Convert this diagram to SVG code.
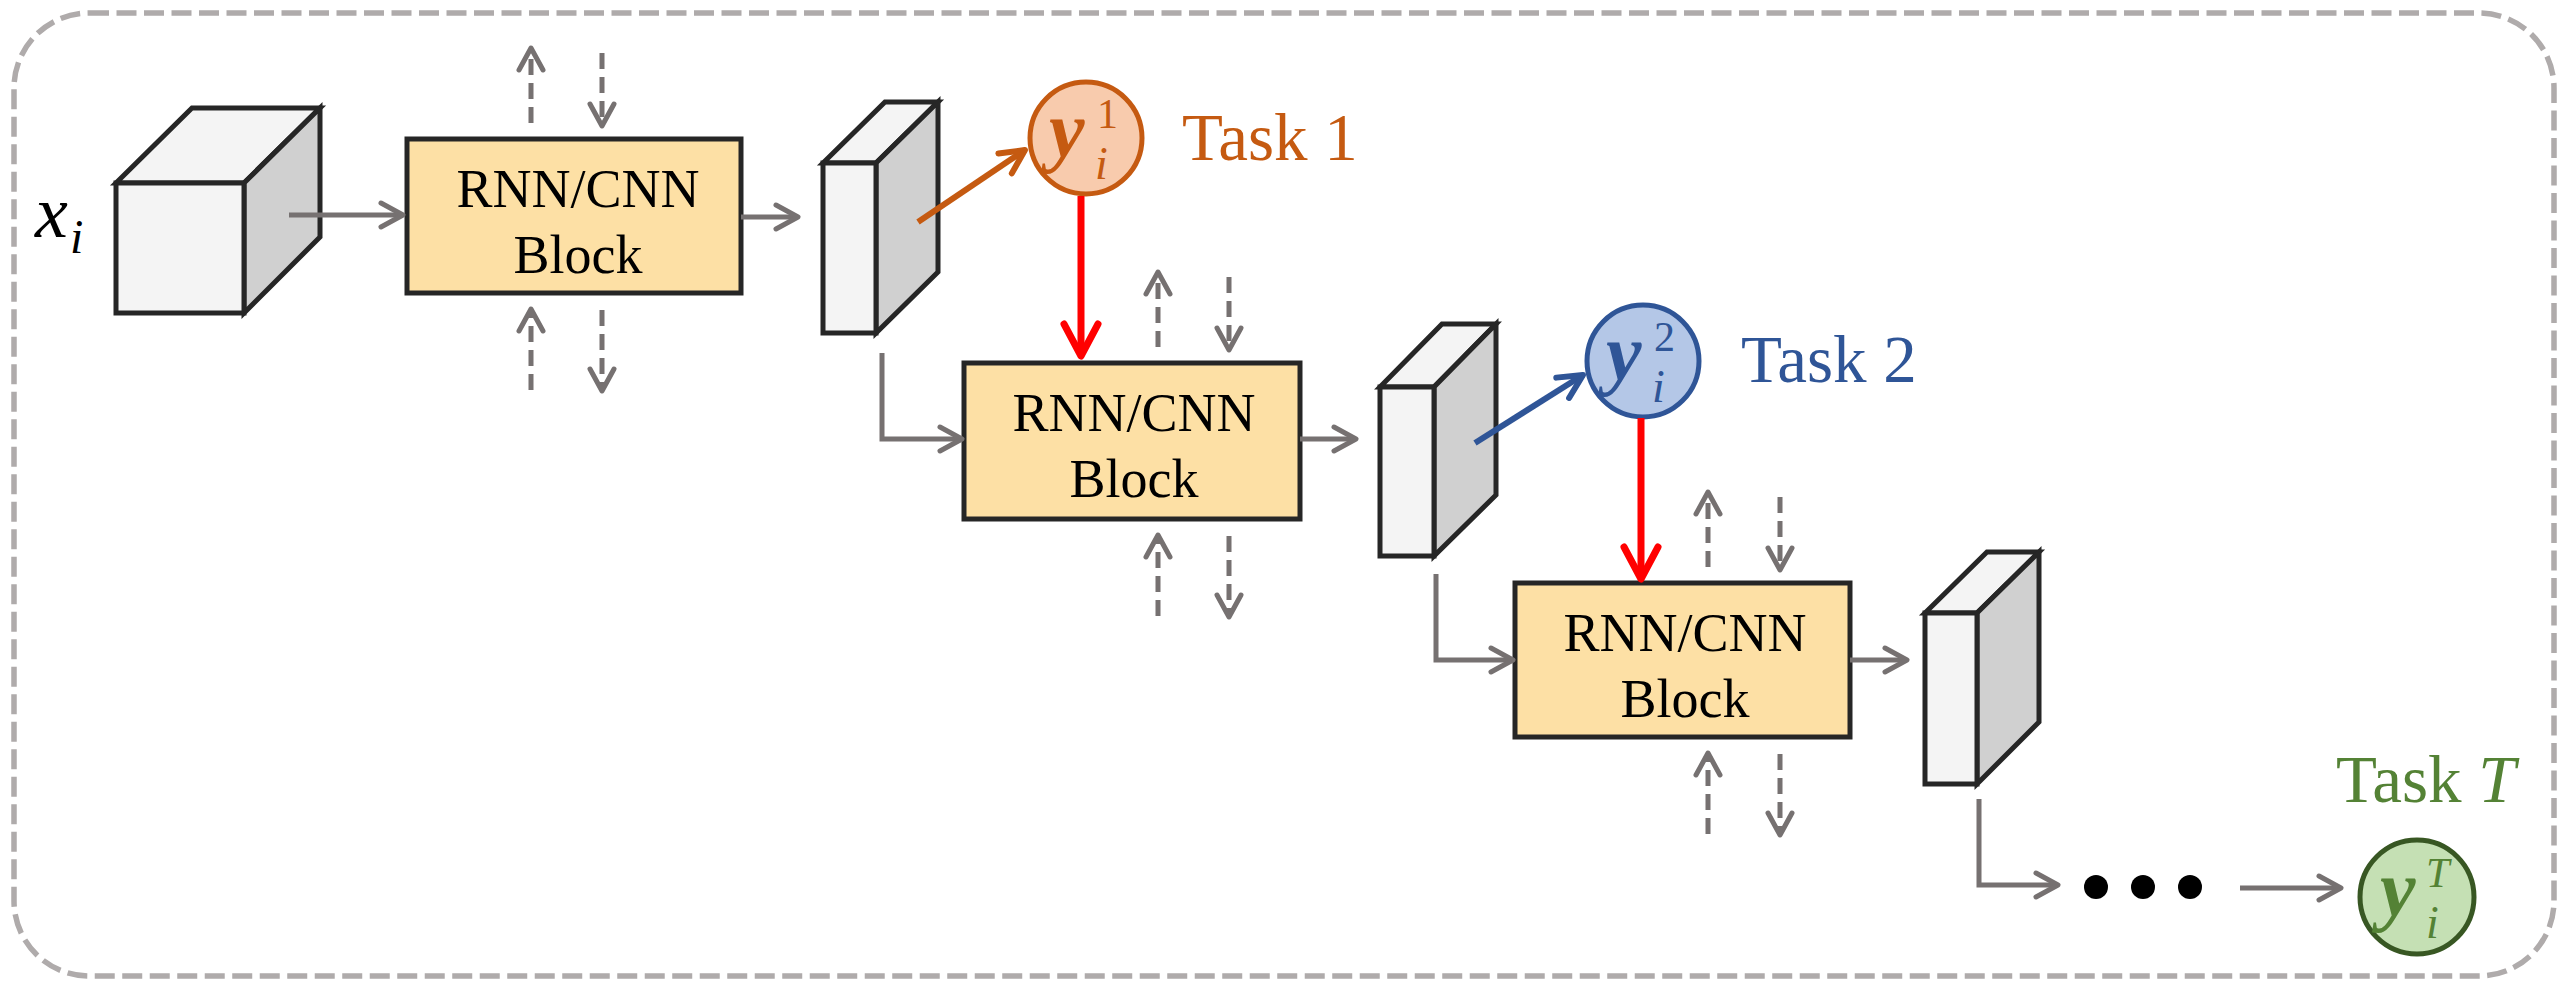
<svg xmlns="http://www.w3.org/2000/svg" width="2559" height="981" viewBox="0 0 2559 981">
<style>
.frame{fill:none;stroke:#afabab;stroke-width:5.5;stroke-dasharray:20 7.5}
.cf{fill:#f4f4f4;stroke:#262626;stroke-width:5;stroke-linejoin:miter}
.cs{fill:#d0d0d0;stroke:#262626;stroke-width:5;stroke-linejoin:miter}
.blk{fill:#fde0a5;stroke:#262626;stroke-width:5}
.bt{font-family:"Liberation Serif",serif;font-size:54px;fill:#000;text-anchor:middle}
.g{fill:none;stroke:#767171;stroke-width:5}
.gd{fill:none;stroke:#767171;stroke-width:5;stroke-dasharray:16 8}
.red{fill:none;stroke:#ff0000;stroke-width:7}
.or{fill:none;stroke:#c55a11;stroke-width:6}
.bl{fill:none;stroke:#2f5597;stroke-width:6}
.task{font-family:"Liberation Serif",serif;font-size:67px}
.m{font-family:"Liberation Serif",serif;font-style:italic}
.n{font-family:"Liberation Serif",serif}
</style>
<defs>
<marker id="ag" markerUnits="userSpaceOnUse" orient="auto" markerWidth="60" markerHeight="60" refX="0" refY="0" overflow="visible">
<path d="M-22,-12 L0,0 L-22,12" fill="none" stroke="#767171" stroke-width="5" stroke-linecap="round" stroke-linejoin="round"/>
</marker>
<marker id="ar" markerUnits="userSpaceOnUse" orient="auto" markerWidth="60" markerHeight="60" refX="0" refY="0" overflow="visible">
<path d="M-32,-17 L0,0 L-32,17" fill="none" stroke="#ff0000" stroke-width="7" stroke-linecap="round" stroke-linejoin="round"/>
</marker>
<marker id="ao" markerUnits="userSpaceOnUse" orient="auto" markerWidth="60" markerHeight="60" refX="0" refY="0" overflow="visible">
<path d="M-24,-12 L0,0 L-24,12" fill="none" stroke="#c55a11" stroke-width="6" stroke-linecap="round" stroke-linejoin="round"/>
</marker>
<marker id="ab" markerUnits="userSpaceOnUse" orient="auto" markerWidth="60" markerHeight="60" refX="0" refY="0" overflow="visible">
<path d="M-24,-12 L0,0 L-24,12" fill="none" stroke="#2f5597" stroke-width="6" stroke-linecap="round" stroke-linejoin="round"/>
</marker>
</defs>
<rect width="2559" height="981" fill="#ffffff"/>
<rect class="frame" x="14" y="13" width="2540" height="963" rx="75" ry="75"/>

<g id="input">
<text class="m" x="35" y="237" font-size="74">x</text>
<text class="m" x="70" y="253" font-size="48">i</text>
</g>

<g id="cube1">
<polygon class="cf" points="116,183 192,108 320,108 244,183"/>
<polygon class="cs" points="244,183 320,108 320,237 244,313"/>
<rect class="cf" x="116" y="183" width="128" height="130"/>
</g>

<g id="block1">
<rect class="blk" x="407" y="139" width="334" height="154"/>
<text class="bt" x="578" y="207">RNN/CNN</text>
<text class="bt" x="578" y="273">Block</text>
</g>

<g id="cube2">
<polygon class="cf" points="823,163 885,102 938,102 876,163"/>
<polygon class="cs" points="876,163 938,102 938,272 876,333"/>
<rect class="cf" x="823" y="163" width="53" height="170"/>
</g>

<g id="y1">
<circle cx="1086" cy="138" r="56" fill="#f8cbad" stroke="#c55a11" stroke-width="5"/>
<text class="m" x="1049" y="157" font-size="80" font-weight="bold" fill="#c55a11">y</text>
<text class="n" x="1097" y="128" font-size="42" fill="#c55a11">1</text>
<text class="m" x="1095" y="179" font-size="46" fill="#c55a11">i</text>
</g>
<text id="task1" class="task" x="1182" y="160" fill="#c55a11">Task 1</text>

<g id="block2">
<rect class="blk" x="964" y="363" width="336" height="156"/>
<text class="bt" x="1134" y="431">RNN/CNN</text>
<text class="bt" x="1134" y="497">Block</text>
</g>

<g id="cube3">
<polygon class="cf" points="1380,387 1442,324 1496,324 1434,387"/>
<polygon class="cs" points="1434,387 1496,324 1496,495 1434,556"/>
<rect class="cf" x="1380" y="387" width="54" height="169"/>
</g>

<g id="y2">
<circle cx="1643" cy="361" r="56" fill="#b4c7e7" stroke="#2f5597" stroke-width="5"/>
<text class="m" x="1606" y="380" font-size="80" font-weight="bold" fill="#2f5597">y</text>
<text class="n" x="1654" y="351" font-size="42" fill="#2f5597">2</text>
<text class="m" x="1652" y="402" font-size="46" fill="#2f5597">i</text>
</g>
<text id="task2" class="task" x="1741" y="382" fill="#2f5597">Task 2</text>

<g id="block3">
<rect class="blk" x="1515" y="583" width="335" height="154"/>
<text class="bt" x="1685" y="651">RNN/CNN</text>
<text class="bt" x="1685" y="717">Block</text>
</g>

<g id="cube4">
<polygon class="cf" points="1925,613 1987,552 2039,552 1977,613"/>
<polygon class="cs" points="1977,613 2039,552 2039,722 1977,784"/>
<rect class="cf" x="1925" y="613" width="52" height="171"/>
</g>

<g id="dots">
<circle cx="2096" cy="887" r="12" fill="#000"/>
<circle cx="2143" cy="887" r="12" fill="#000"/>
<circle cx="2190" cy="887" r="12" fill="#000"/>
</g>

<g id="yT">
<circle cx="2417" cy="897" r="57" fill="#c5e0b4" stroke="#385723" stroke-width="5"/>
<text class="m" x="2380" y="916" font-size="80" font-weight="bold" fill="#548235">y</text>
<text class="m" x="2426" y="887" font-size="42" fill="#548235">T</text>
<text class="m" x="2426" y="938" font-size="46" fill="#548235">i</text>
</g>
<text id="taskT" class="task" x="2336" y="802" fill="#548235">Task <tspan font-style="italic">T</tspan></text>

<g id="connectors">
<line class="g" x1="289" y1="215" x2="403" y2="215" marker-end="url(#ag)"/>
<line class="g" x1="741" y1="217" x2="798" y2="217" marker-end="url(#ag)"/>
<polyline class="g" points="882,353 882,439 962,439" marker-end="url(#ag)"/>
<line class="g" x1="1300" y1="439" x2="1356" y2="439" marker-end="url(#ag)"/>
<polyline class="g" points="1436,574 1436,660 1513,660" marker-end="url(#ag)"/>
<line class="g" x1="1850" y1="660" x2="1907" y2="660" marker-end="url(#ag)"/>
<polyline class="g" points="1979,799 1979,885 2058,885" marker-end="url(#ag)"/>
<line class="g" x1="2240" y1="888" x2="2341" y2="888" marker-end="url(#ag)"/>

<line class="or" x1="918" y1="222" x2="1025" y2="150" marker-end="url(#ao)"/>
<line class="bl" x1="1475" y1="443" x2="1583" y2="375" marker-end="url(#ab)"/>
<line class="red" x1="1081" y1="196" x2="1081" y2="356" marker-end="url(#ar)"/>
<line class="red" x1="1641" y1="418" x2="1641" y2="579" marker-end="url(#ar)"/>

<line class="gd" x1="531" y1="123" x2="531" y2="48" marker-end="url(#ag)"/>
<line class="gd" x1="602" y1="53" x2="602" y2="126" marker-end="url(#ag)"/>
<line class="gd" x1="531" y1="390" x2="531" y2="309" marker-end="url(#ag)"/>
<line class="gd" x1="602" y1="310" x2="602" y2="391" marker-end="url(#ag)"/>

<line class="gd" x1="1158" y1="347" x2="1158" y2="272" marker-end="url(#ag)"/>
<line class="gd" x1="1229" y1="277" x2="1229" y2="350" marker-end="url(#ag)"/>
<line class="gd" x1="1158" y1="616" x2="1158" y2="535" marker-end="url(#ag)"/>
<line class="gd" x1="1229" y1="536" x2="1229" y2="617" marker-end="url(#ag)"/>

<line class="gd" x1="1708" y1="567" x2="1708" y2="492" marker-end="url(#ag)"/>
<line class="gd" x1="1780" y1="497" x2="1780" y2="570" marker-end="url(#ag)"/>
<line class="gd" x1="1708" y1="834" x2="1708" y2="753" marker-end="url(#ag)"/>
<line class="gd" x1="1780" y1="754" x2="1780" y2="835" marker-end="url(#ag)"/>
</g>
</svg>
